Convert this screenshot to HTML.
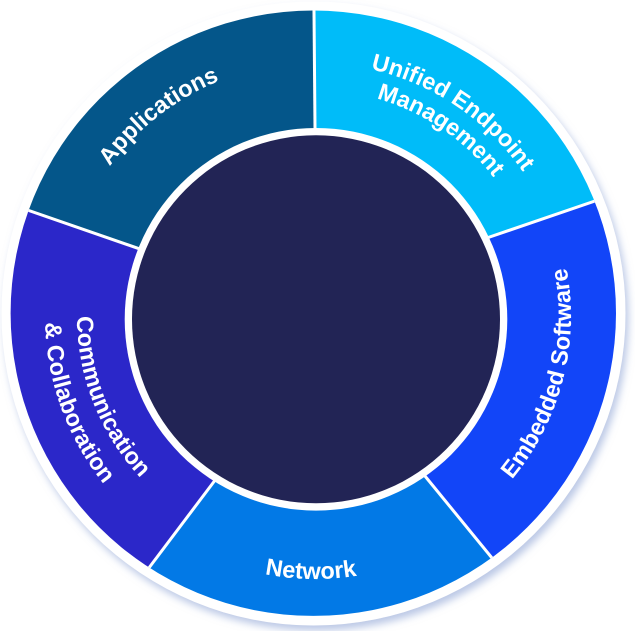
<!DOCTYPE html>
<html>
<head>
<meta charset="utf-8">
<style>
  html, body { margin: 0; padding: 0; background: #ffffff; width: 635px; height: 631px; overflow: hidden; }
  svg { display: block; overflow: hidden; }
  .lbl { font-family: "Liberation Sans", Arial, sans-serif; font-weight: bold; font-size: 23.5px; fill: #ffffff; }
</style>
</head>
<body>
<svg width="635" height="631" viewBox="0 0 635 631" xmlns="http://www.w3.org/2000/svg">
  <defs>
    <filter id="sh" filterUnits="userSpaceOnUse" x="0" y="0" width="635" height="631">
      <feDropShadow dx="3" dy="5" stdDeviation="4" flood-color="#8ea3d4" flood-opacity="0.6"/>
    </filter>
    <clipPath id="outer">
      <circle cx="313.3" cy="313.2" r="302.7"/>
    </clipPath>
    <path id="pApp" d="M63.5,351.3 A254,254 0 0 1 410.1,80.5"/>
    <path id="pUem1" d="M204.1,88.6 A253,253 0 0 1 567.4,333.7"/>
    <path id="pUem2" d="M215.9,112.9 A226,226 0 0 1 540.5,331.8"/>
    <path id="pEmb" d="M383.8,562.6 A256,256 0 0 0 494.1,133.1"/>
    <path id="pNet" d="M85.2,443.9 A263,263 0 0 0 540.7,451.0"/>
    <path id="pCom1" d="M128.7,167.8 A238,238 0 0 0 279.8,551.4"/>
    <path id="pCom2" d="M108.2,142.4 A270,270 0 0 0 268.1,581.9"/>
  </defs>

  <!-- outer white ring with shadow -->
  <circle cx="313.5" cy="313.5" r="312" fill="#ffffff" filter="url(#sh)"/>

  <!-- colored segments -->
  <g clip-path="url(#outer)">
    <polygon fill="#04568a" points="316,319 137,248 0,200.2 0,0 314,0 315,128"/>
    <polygon fill="#00bcf9" points="316,319 315,128 314,0 635,0 635,187.3 490,237"/>
    <polygon fill="#1245f8" points="316,319 490,237 635,187.3 635,631 552,631 425,476"/>
    <polygon fill="#0279e6" points="316,319 425,476 552,631 101.1,631 213,483"/>
    <polygon fill="#2b27c9" points="316,319 213,483 101.1,631 0,631 0,200.2 137,248"/>

    <g stroke="#ffffff" stroke-width="3" fill="none">
      <line x1="315.1" y1="140" x2="313.9" y2="0"/>
      <line x1="478" y1="241" x2="625" y2="190.7"/>
      <line x1="418" y1="467.5" x2="510" y2="580"/>
      <line x1="220" y1="473.6" x2="130" y2="593"/>
      <line x1="148" y1="251.8" x2="0" y2="200.5"/>
    </g>
  </g>

  <!-- inner circles -->
  <circle cx="316" cy="319.3" r="191.3" fill="#ffffff"/>
  <circle cx="316" cy="319.3" r="184" fill="#222455"/>

  <!-- labels -->
  <text class="lbl"><textPath href="#pApp" startOffset="50%" text-anchor="middle">Applications</textPath></text>
  <text class="lbl"><textPath href="#pUem1" startOffset="50%" text-anchor="middle">Unified Endpoint</textPath></text>
  <text class="lbl"><textPath href="#pUem2" startOffset="50%" text-anchor="middle">Management</textPath></text>
  <text class="lbl"><textPath href="#pEmb" startOffset="50%" text-anchor="middle">Embedded Software</textPath></text>
  <text class="lbl"><textPath href="#pNet" startOffset="50%" text-anchor="middle">Network</textPath></text>
  <text class="lbl"><textPath href="#pCom1" startOffset="50%" text-anchor="middle">Communication</textPath></text>
  <text class="lbl"><textPath href="#pCom2" startOffset="50%" text-anchor="middle">&amp; Collaboration</textPath></text>
</svg>
</body>
</html>
